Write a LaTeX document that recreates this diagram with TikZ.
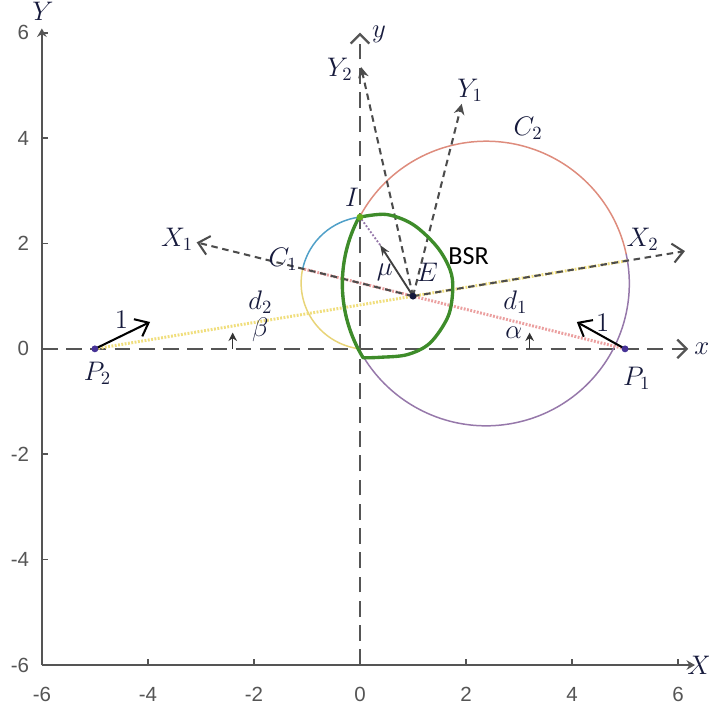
\documentclass[tikz,border=0pt]{standalone}
\usepackage{amsmath,amssymb}
\usepackage{fontspec}
\usepackage{tikz}
\usetikzlibrary{arrows.meta,positioning}
\newfontfamily\ticksf{Liberation Sans}
\newfontfamily\bsrsf{Carlito}
\definecolor{axgray}{RGB}{85,85,85}
\definecolor{ctwored}{RGB}{222,140,125}
\definecolor{ctwopurple}{RGB}{150,120,170}
\definecolor{coneblue}{RGB}{80,160,200}
\definecolor{coneyellow}{RGB}{232,212,120}
\definecolor{bsrgreen}{RGB}{62,140,42}
\definecolor{dpink}{RGB}{235,160,160}
\definecolor{dyellow}{RGB}{240,222,125}
\definecolor{lblnavy}{RGB}{22,26,60}
\definecolor{dotblue}{RGB}{70,50,150}
\tikzset{
  >={Stealth[length=2mm]},
  frame/.style={draw=axgray, line width=0.9pt},
  midaxis/.style={
    draw=axgray, line width=1.2pt, dash pattern=on 8.5pt off 4.5pt,
    -{Straight Barb[length=5pt, width=10pt]}
  },
  ticklbl/.style={font=\ticksf\fontsize{11}{13}\selectfont, text=axgray, inner sep=1pt},
  lbl/.style={font=\fontsize{14}{16}\selectfont, text=lblnavy, inner sep=1pt},
  circ/.style={line width=0.8pt},
  bsr/.style={draw=bsrgreen, line width=1.8pt, line join=round},
  rotaxis/.style={draw=black!70, line width=1.1pt, dash pattern=on 3.5pt off 2.5pt},
  pinkdots/.style={draw=dpink, line width=1.6pt, dash pattern=on 1pt off 0.8pt},
  yellowdots/.style={draw=dyellow, line width=1.6pt, dash pattern=on 1pt off 0.8pt},
  unitvec/.style={draw=black, line width=1.1pt, -{Straight Barb[length=2.2mm, width=3.6mm]}},
  angarrow/.style={draw=black!80, line width=0.8pt, -{Stealth[length=1.6mm, width=1.6mm]}},
}

\begin{document}
\begin{tikzpicture}[x=1cm, y=0.994cm]
  \useasboundingbox (-6.79,-6.91) rectangle (6.58,6.62);
  \coordinate (O) at (-6,-6);
  \coordinate (Xe) at (6.32,-6);
  \coordinate (Ye) at (-6,6.08);
  \draw[frame, -{Stealth[length=1.6mm, width=1.8mm]}] (O) -- (Xe);
  \draw[frame, -{Stealth[length=1.6mm, width=1.8mm]}] (O) -- (Ye);
  \foreach \v in {-6,-4,...,6} {
    \draw[frame] (\v,-6) -- ++(0,0.11);
    \draw[frame] (-6,\v) -- ++(0.11,0);
    \node[ticklbl] (tx\v) at (\v,-6.55) {\v};
    \node[ticklbl, anchor=east] (ty\v) at (-6.2,\v) {\v};
  }
  \node[lbl] (Xlbl) at (6.4,-6) {$X$};
  \node[lbl] (Ylbl) at (-5.98,6.4) {$Y$};

  \coordinate (xa0) at (-6,0);
  \coordinate (xa1) at (6.19,0);
  \coordinate (ya0) at (0,-6);
  \coordinate (ya1) at (0,6.0);
  \draw[midaxis] (xa0) -- (xa1);
  \draw[midaxis] (ya0) -- (ya1);
  \node[lbl] (xlbl) at (6.45,0) {$x$};
  \node[lbl] (ylbl) at (0.36,5.97) {$y$};

  \coordinate (E) at (1,1);
  \coordinate (P1) at (5,0);
  \coordinate (P2) at (-5,0);
  \coordinate (I) at (0,2.5);
  \coordinate (c1) at (0.15,1.25);
  \coordinate (c2) at (2.38,1.24);
  \coordinate (X1) at (-3.08,2.02);
  \coordinate (X2) at (6.13,1.855);
  \coordinate (Y1) at (1.92,4.65);
  \coordinate (Y2) at (0.02,5.35);
  \coordinate (K1) at (-1.08,1.52);
  \coordinate (K2) at (5.05,1.675);
  \coordinate (M) at (0.38,1.97);
  \coordinate (U1) at (4.09,0.51);
  \coordinate (U2) at (-3.96,0.51);
  \coordinate (a0) at (3.2,0);
  \coordinate (a1) at (3.2,0.31);
  \coordinate (b0) at (-2.4,0);
  \coordinate (b1) at (-2.4,0.31);

  \draw[circ, coneblue] (c1) ++(96.8:1.26) arc[start angle=96.8, end angle=167.6, radius=1.26];
  \draw[circ, coneyellow] (c1) ++(167.6:1.26) arc[start angle=167.6, end angle=263.2, radius=1.26];
  \draw[circ, ctwored] (c2) ++(152.1:2.7) arc[start angle=152.1, end angle=12, radius=2.7];
  \draw[circ, ctwopurple] (c2) ++(12:2.7) arc[start angle=12, end angle=-207.9, radius=2.7];

  \draw[pinkdots] (P1) -- (K1);
  \draw[yellowdots] (P2) -- (K2);
  \draw[rotaxis, -{Straight Barb[length=2mm, width=3.6mm]}] (E) -- (X1);
  \draw[rotaxis, -{Straight Barb[length=2mm, width=3.6mm]}] (E) -- (X2);
  \draw[rotaxis, -{Stealth[length=2mm, width=2mm]}] (E) -- (Y1);
  \draw[rotaxis, -{Stealth[length=2mm, width=2mm]}] (E) -- (Y2);

  \draw[bsr] plot[smooth, tension=0.55] coordinates {(0,2.5) (0.5,2.55) (1.0,2.36) (1.45,1.94)
    (1.7,1.5) (1.75,1.12) (1.66,0.61) (1.32,0.11) (0.89,-0.11) (0.38,-0.16) (0.06,-0.17)}
    arc[start angle=211.3, end angle=152.1, radius=2.7] -- cycle;

  \draw[ctwopurple, line width=1pt, dash pattern=on 1pt off 1pt] (M) -- (I);
  \draw[draw=black!75, line width=1pt, ->] (E) -- (M);
  \draw[unitvec] (P1) -- (U1);
  \draw[unitvec] (P2) -- (U2);
  \draw[angarrow] (a0) -- (a1);
  \draw[angarrow] (b0) -- (b1);

  \fill[dotblue] (P1) circle[radius=0.065];
  \fill[dotblue] (P2) circle[radius=0.065];
  \fill[lblnavy] (E) circle[radius=0.065];
  \fill[bsrgreen!70!lime] (I) circle[radius=0.065];

  \node[lbl] (lP1) at (5.22,-0.55) {$P_1$};
  \node[lbl] (lP2) at (-4.95,-0.47) {$P_2$};
  \node[lbl] (lE) at (1.27,1.45) {$E$};
  \node[lbl] (lmu) at (0.47,1.45) {$\mu$};
  \node[lbl] (lI) at (-0.15,2.88) {$I$};
  \node[lbl] (lX1) at (-3.45,2.08) {$X_1$};
  \node[lbl] (lX2) at (5.33,2.07) {$X_2$};
  \node[lbl] (lY1) at (2.08,4.9) {$Y_1$};
  \node[lbl] (lY2) at (-0.38,5.3) {$Y_2$};
  \node[lbl] (lC1) at (-1.45,1.7) {$C_1$};
  \node[lbl] (lC2) at (3.17,4.19) {$C_2$};
  \node[font=\bsrsf\fontsize{14}{16}\selectfont] (lBSR) at (2.05,1.76) {BSR};
  \node[lbl] (ld1) at (2.93,0.88) {$d_1$};
  \node[lbl] (lal) at (2.9,0.3) {$\alpha$};
  \node[lbl] (ld2) at (-1.88,0.88) {$d_2$};
  \node[lbl] (lbe) at (-1.88,0.36) {$\beta$};
  \node[lbl] (lone1) at (4.58,0.5) {$1$};
  \node[lbl] (lone2) at (-4.5,0.55) {$1$};
\end{tikzpicture}
\end{document}
